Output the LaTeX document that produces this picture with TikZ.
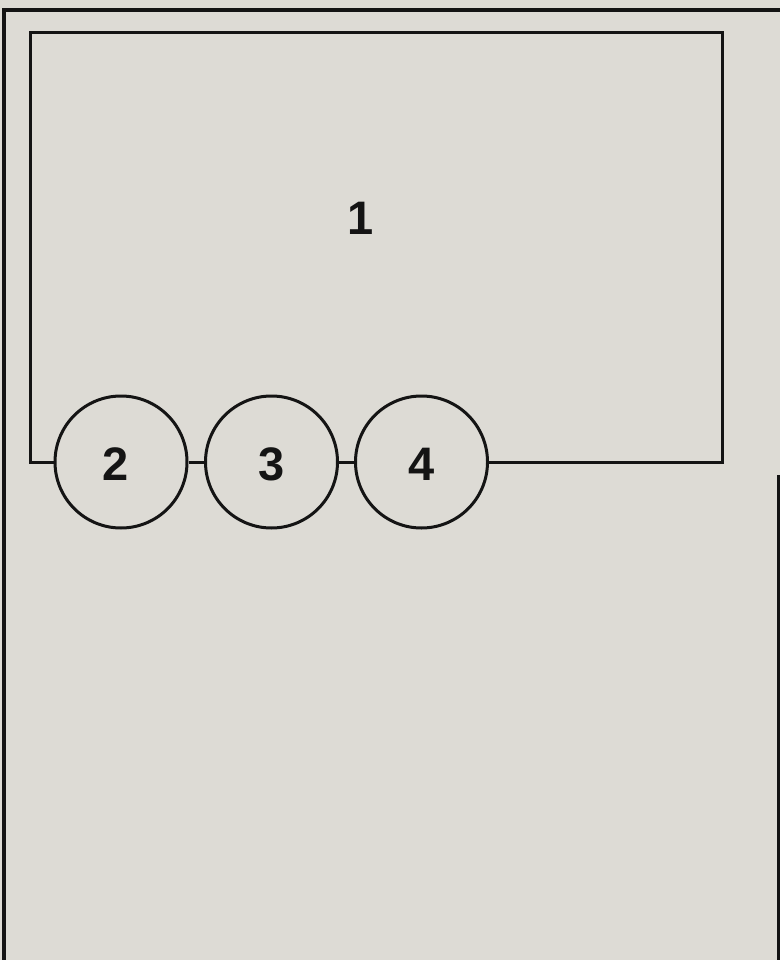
\documentclass[tikz,border=0pt]{standalone}
\usepackage{fontspec}
\setmainfont{Liberation Sans}
\definecolor{bgc}{RGB}{221,219,213}
\definecolor{ink}{RGB}{20,20,20}
\begin{document}
\begin{tikzpicture}[x=1pt,y=-1pt,
  lbl/.style={font=\fontsize{47}{50}\selectfont\bfseries, text=ink, inner sep=0pt},
  ring/.style={circle, draw=ink, line width=3pt, minimum size=132pt, inner sep=0pt},
  wire/.style={draw=ink, line width=3pt, line join=miter},
  frame/.style={draw=ink, line width=3.5pt}]
\fill[bgc] (0,0) rectangle (780,960);
\useasboundingbox (0,0) rectangle (780,960);
% outer frame
\coordinate (f1) at (4,960);
\coordinate (f2) at (4,10);
\coordinate (f3) at (780,10);
\coordinate (f4) at (778.5,475);
\coordinate (f5) at (778.5,960);
\draw[frame] (f1) -- (f2) -- (f3);
\draw[frame, line width=2.5pt] (f4) -- (f5);
% corners of the box
\coordinate (tl) at (30,33);
\coordinate (tr) at (722,33);
\coordinate (bl) at (30,462);
\coordinate (br) at (722,462);
% label of box
\node[lbl] (n1) at (361,218) {1};
% circles
\node[ring] (c2) at (121,462) {};
\node[ring] (c3) at (271.5,462) {};
\node[ring] (c4) at (421.5,462) {};
\node[lbl] (t2) at (116,464) {2};
\node[lbl] (t3) at (272,464) {3};
\node[lbl] (t4) at (422,464) {4};
% connectors
\draw[wire] (c2.west) -- (bl) -- (tl) -- (tr) -- (br) -- (c4.east);
\draw[wire] (c2.east) -- (c3.west);
\draw[wire] (c3.east) -- (c4.west);
\end{tikzpicture}
\end{document}
